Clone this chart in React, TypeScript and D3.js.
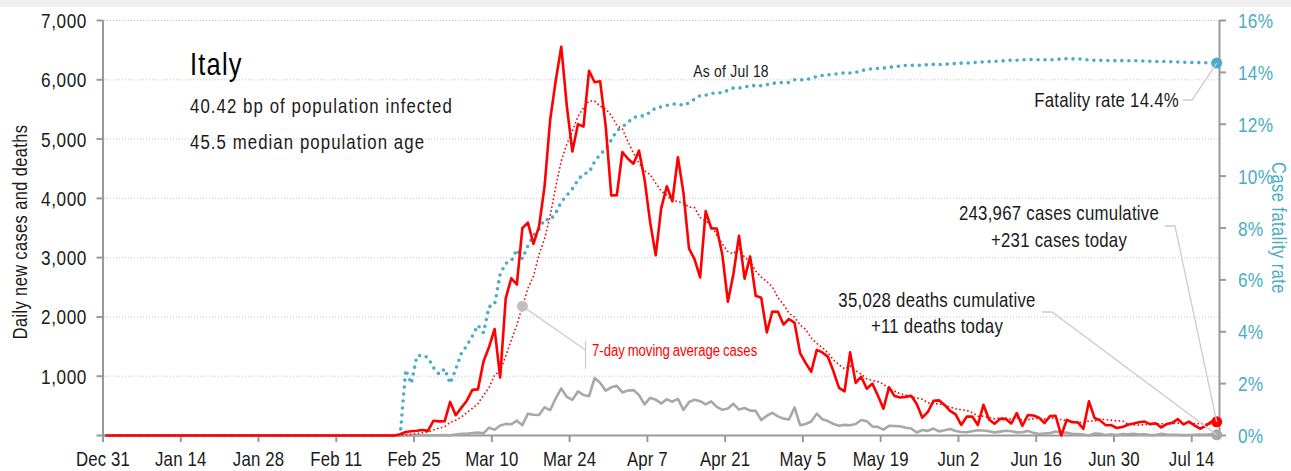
import React from "react";
import * as d3 from "d3";

// ---------- data (chart dates, one value per day) ----------
const startDate = Date.UTC(2019, 11, 31); // Dec 31
const firstDataDay = 53; // Feb 22 = day 53 after Dec 31
const lastDay = 201; // axis end (Jul 19)

const casesFeb = [20, 59, 71, 79, 93, 78, 250, 238];
const casesMar = [240, 566, 342, 466, 587, 769, 778, 1247, 1492, 1797, 977, 2313, 2651, 2547, 3497, 3590, 3233, 3526, 4207, 5322, 5986, 6557, 5560, 4789, 5249, 5210, 6153, 5959, 5974, 5217, 4050];
const casesApr = [4053, 4782, 4668, 4585, 4805, 4316, 3599, 3039, 3836, 4204, 3951, 4694, 4092, 3153, 2972, 2667, 3786, 3493, 3491, 3047, 2256, 2729, 3370, 2646, 3021, 2357, 2324, 1739, 2091, 2086];
const casesMay = [1872, 1965, 1900, 1389, 1221, 1075, 1444, 1401, 1327, 1083, 802, 744, 1402, 888, 992, 789, 875, 675, 451, 813, 665, 642, 652, 669, 531, 300, 397, 584, 593, 516, 416];
const casesJun = [355, 178, 318, 321, 177, 518, 270, 197, 280, 283, 202, 379, 163, 346, 338, 301, 210, 329, 333, -148, 264, 224, 221, 113, 577, 296, 255, 175, 174, 126];
const casesJul = [142, 182, 201, 223, 235, 192, 208, 137, 193, 214, 276, 188, 234, 169, 114, 162, 230, 231];

const deathsFeb = [0, 2, 1, 4, 3, 2, 5, 4];
const deathsMar = [8, 5, 18, 27, 28, 41, 49, 36, 133, 97, 168, 196, 189, 250, 175, 368, 349, 345, 475, 427, 627, 793, 651, 601, 743, 683, 662, 969, 889, 756, 812];
const deathsApr = [837, 727, 760, 766, 681, 525, 636, 604, 542, 610, 570, 619, 431, 566, 602, 578, 525, 575, 482, 433, 454, 534, 437, 464, 420, 415, 260, 333, 382, 323];
const deathsMay = [285, 269, 474, 174, 195, 236, 369, 274, 243, 194, 165, 179, 172, 195, 262, 242, 153, 145, 99, 162, 161, 156, 130, 119, 50, 92, 78, 117, 70, 87, 111];
const deathsJun = [75, 60, 55, 71, 88, 85, 72, 53, 65, 79, 71, 53, 56, 78, 44, 26, 34, 43, 66, 47, 49, 24, 23, 18, -31, 34, 30, 8, 22, 6];
const deathsJul = [23, 21, 30, 15, 21, 7, 8, 30, 15, 12, 12, 7, 9, 13, 17, 13, 20, 11];

const cumulativeCases = 243967;
const cumulativeDeaths = 35028;

const xTickDays = d3.range(0, 197, 14);
const yTicksLeft = [0, 1000, 2000, 3000, 4000, 5000, 6000, 7000];
const yTicksRight = [0, 0.02, 0.04, 0.06, 0.08, 0.1, 0.12, 0.14, 0.16];

const titleText = "Italy";
const subtitle1 = "40.42 bp of population infected";
const subtitle2 = "45.5 median population age";
const maLabelDay = 75; // Mar 15

// ---------- styles ----------
const FONT = "'Liberation Sans', Arial, sans-serif";
const SX = 0.82; // horizontal condensing of all text
const RED = "#ff0000";
const GRAY = "#a8a8a8";
const BLUE = "#4aacc6";
const AXIS = "#999999";
const TEXT = "#1a1a1a";
const CONNECT = "#cccccc";

const W = 1291;
const H = 471;

type TP = {
  x: number;
  y: number;
  size: number;
  anchor?: "start" | "middle" | "end";
  fill?: string;
  ls?: number;
  rotate?: number;
  dy?: string;
  ws?: number;
  children: React.ReactNode;
};

function T({ x, y, size, anchor = "start", fill = TEXT, ls = 0, rotate = 0, dy, ws, children }: TP) {
  return (
    <text
      transform={`translate(${x},${y}) rotate(${rotate}) scale(${SX},1)`}
      fontSize={size}
      textAnchor={anchor}
      fill={fill}
      letterSpacing={ls}
      wordSpacing={ws}
      dy={dy}
    >
      {children}
    </text>
  );
}

export default function App() {
  const cases = [...casesFeb, ...casesMar, ...casesApr, ...casesMay, ...casesJun, ...casesJul];
  const deaths = [...deathsFeb, ...deathsMar, ...deathsApr, ...deathsMay, ...deathsJun, ...deathsJul];
  const nDays = firstDataDay + cases.length; // days 0..200
  const day = (i: number) => new Date(startDate + i * 86400000);
  const rows = d3.range(nDays).map((i) => {
    const k = i - firstDataDay;
    return { i, c: k >= 0 ? cases[k] : 0, d: k >= 0 ? deaths[k] : 0 };
  });
  let cc = 0;
  let cd = 0;
  const series = rows.map((r, idx) => {
    cc += r.c;
    cd += r.d;
    const win = rows.slice(Math.max(0, idx - 6), idx + 1);
    const ma = d3.mean(win, (w) => Math.max(0, w.c)) ?? 0;
    return { i: r.i, c: Math.max(0, r.c), d: Math.max(0, r.d), ma, cfr: cc > 0 ? cd / cc : 0 };
  });

  const x = d3.scaleUtc().domain([day(0), day(lastDay)]).range([103, 1219.5]);
  const xd = (i: number) => x(new Date(startDate + (i + 0.5) * 86400000));
  const y = d3.scaleLinear().domain([0, 7000]).range([435.5, 20.5]);
  const y2 = d3.scaleLinear().domain([0, 0.16]).range([435.5, 20.5]);

  const lineCases = d3.line<any>().x((s) => xd(s.i)).y((s) => y(s.c));
  const lineDeaths = d3.line<any>().x((s) => xd(s.i)).y((s) => y(s.d));
  const lineMA = d3.line<any>().x((s) => xd(s.i)).y((s) => y(s.ma));
  const lineCFR = d3.line<any>().x((s) => xd(s.i)).y((s) => y2(s.cfr));

  const fmtDate = d3.utcFormat("%b %-d");
  const last = series[series.length - 1];
  const lx = xd(last.i);
  const maPt = series[maLabelDay];
  const fmt = d3.format(",");

  return (
    <svg width={W} height={H} style={{ position: "absolute", left: 0, top: 0, background: "#fff" }} fontFamily={FONT}>
      <rect x={0} y={0} width={W} height={7} fill="#f0f0f0" />
      {/* gridlines */}
      {yTicksLeft.filter((t) => t > 0).map((t) => (
        <line key={"g" + t} x1={104} x2={1219} y1={y(t)} y2={y(t)} stroke="#c4c4c4" strokeWidth={1} strokeDasharray="1,2" />
      ))}
      {/* axes */}
      <line x1={103} x2={103} y1={20} y2={436} stroke={AXIS} strokeWidth={2} />
      <line x1={1219.5} x2={1219.5} y1={20} y2={436} stroke={AXIS} strokeWidth={2} />
      <line x1={102} x2={1220.5} y1={435.5} y2={435.5} stroke={AXIS} strokeWidth={2} />
      {yTicksLeft.map((t) => (
        <g key={"yl" + t}>
          <line x1={96.5} x2={103} y1={y(t)} y2={y(t)} stroke={AXIS} strokeWidth={2} />
          {t > 0 && (
            <T x={87} y={y(t)} dy="0.36em" anchor="end" size={21} ls={0.7}>
              {fmt(t)}
            </T>
          )}
        </g>
      ))}
      {yTicksRight.map((t) => (
        <g key={"yr" + t}>
          <line x1={1219.5} x2={1226} y1={y2(t)} y2={y2(t)} stroke={AXIS} strokeWidth={2} />
          <T x={1238} y={y2(t)} dy="0.36em" size={21} fill={BLUE} ls={0.3}>
            {Math.round(t * 100) + "%"}
          </T>
        </g>
      ))}
      {xTickDays.map((t) => (
        <g key={"x" + t}>
          <line x1={x(day(t))} x2={x(day(t))} y1={435.5} y2={442} stroke={AXIS} strokeWidth={2} />
          <T x={x(day(t))} y={466} anchor="middle" size={20.5} ls={0.2}>
            {fmtDate(day(t))}
          </T>
        </g>
      ))}
      <T x={27} y={232} rotate={-90} anchor="middle" size={20} ls={0.5}>
        Daily new cases and deaths
      </T>
      <T x={1272} y={228} rotate={90} anchor="middle" size={20} fill={BLUE} ls={0.6}>
        Case fatality rate
      </T>

      {/* series */}
      <path d={lineCFR(series) ?? ""} fill="none" stroke={BLUE} strokeWidth={3.6} strokeLinecap="round" strokeDasharray="0,7" />
      <path d={lineDeaths(series) ?? ""} fill="none" stroke={GRAY} strokeWidth={2.6} strokeLinejoin="round" />
      <path d={lineCases(series) ?? ""} fill="none" stroke={RED} strokeWidth={2.6} strokeLinejoin="round" />
      <path d={lineMA(series) ?? ""} fill="none" stroke={RED} strokeWidth={1.6} strokeDasharray="1.6,2.4" />

      {/* end markers */}
      <circle cx={lx} cy={y2(last.cfr)} r={5.5} fill={BLUE} />
      <circle cx={lx} cy={y(last.d)} r={5.5} fill={GRAY} />
      <circle cx={lx} cy={y(last.c)} r={5.5} fill={RED} />

      {/* title block */}
      <T x={190} y={75} size={31} fill="#000" ls={1.5}>{titleText}</T>
      <T x={190} y={113} size={20.5} ls={1.3}>{subtitle1}</T>
      <T x={190} y={149} size={20.5} ls={1.3}>{subtitle2}</T>

      {/* annotations */}
      <T x={731} y={77} anchor="middle" size={17} ls={0.3}>
        {"As of " + d3.utcFormat("%b %-d")(day(last.i))}
      </T>
      <polyline points={`1183,100 1192,100 ${lx},${y2(last.cfr)}`} fill="none" stroke={CONNECT} strokeWidth={1.3} />
      <T x={1179} y={107} anchor="end" size={20.5} ls={0.3}>
        {"Fatality rate " + (last.cfr * 100).toFixed(1) + "%"}
      </T>

      <polyline points={`1165,226 1175,226 ${lx},${y(last.c)}`} fill="none" stroke={CONNECT} strokeWidth={1.3} />
      <T x={1059} y={220} anchor="middle" size={20.5} ls={0.3}>
        {fmt(cumulativeCases) + " cases cumulative"}
      </T>
      <T x={1059} y={247} anchor="middle" size={20.5} ls={0.3}>
        {"+" + fmt(last.c) + " cases today"}
      </T>

      <polyline points={`1042,312 1052,312 ${lx},${y(last.d)}`} fill="none" stroke={CONNECT} strokeWidth={1.3} />
      <T x={937} y={307} anchor="middle" size={20.5} ls={0.3}>
        {fmt(cumulativeDeaths) + " deaths cumulative"}
      </T>
      <T x={937} y={333} anchor="middle" size={20.5} ls={0.3}>
        {"+" + fmt(last.d) + " deaths today"}
      </T>

      <line x1={xd(maPt.i)} y1={y(maPt.ma)} x2={585.5} y2={350} stroke={CONNECT} strokeWidth={1.3} />
      <line x1={585.5} x2={585.5} y1={341} y2={369} stroke={CONNECT} strokeWidth={1.3} />
      <circle cx={xd(maPt.i)} cy={y(maPt.ma)} r={5.5} fill="#c0c0c0" />
      <T x={592} y={356} size={16} fill={RED} ws={-1}>
        7-day moving average cases
      </T>
    </svg>
  );
}
